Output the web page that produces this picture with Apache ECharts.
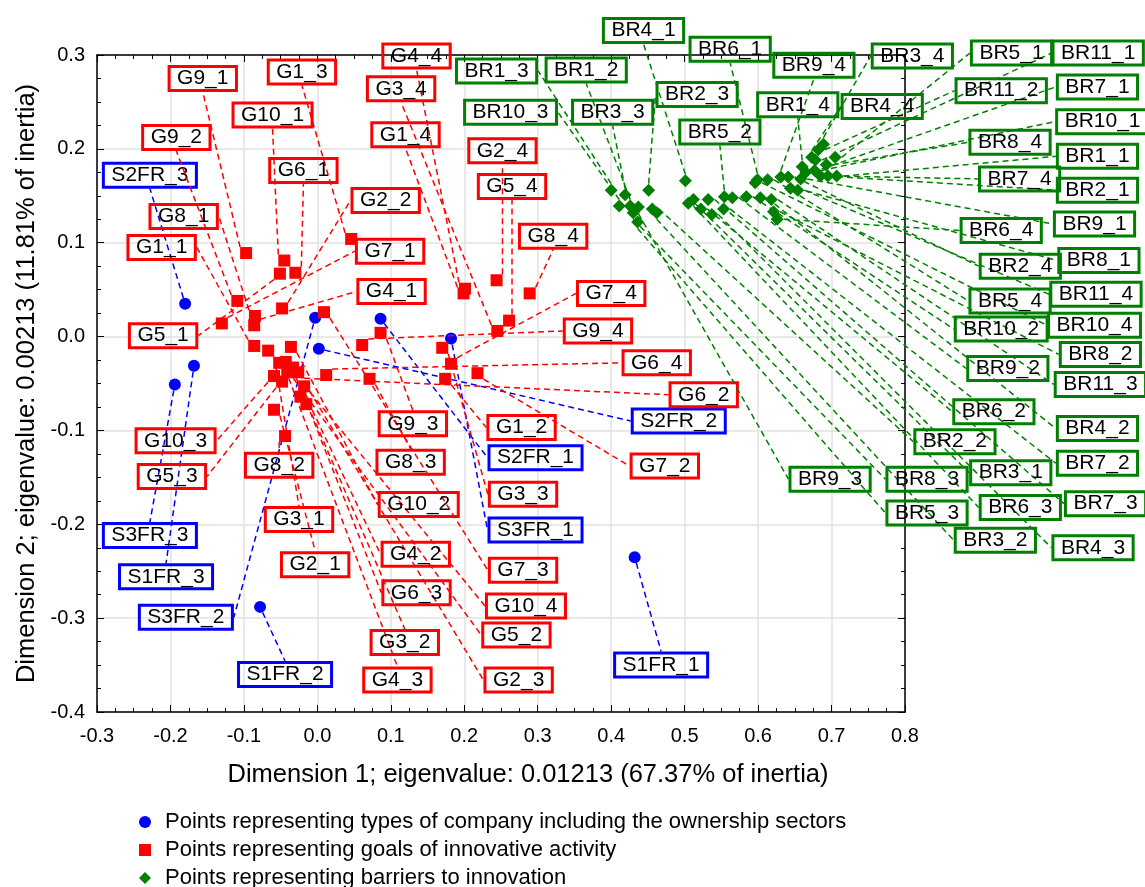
<!DOCTYPE html>
<html><head><meta charset="utf-8">
<script src="https://cdn.jsdelivr.net/npm/echarts@6/dist/echarts.min.js"></script>
<style>html,body{margin:0;padding:0;background:#fff}#c{width:1145px;height:887px}</style>
</head><body><div id="c"></div>
<script>
// ---- Data ----
const xTitle = 'Dimension 1; eigenvalue: 0.01213 (67.37% of inertia)';
const yTitle = 'Dimension 2; eigenvalue: 0.00213 (11.81% of inertia)';
const seriesNames = [
  'Points representing types of company including the ownership sectors',
  'Points representing goals of innovative activity',
  'Points representing barriers to innovation'
];

// Types of company (blue)
const blueNames = ['S1FR_1','S1FR_2','S1FR_3','S2FR_1','S2FR_2','S2FR_3','S3FR_1','S3FR_2','S3FR_3'];
const blueX = [0.432,-0.078,-0.168,0.086,0.002,-0.180,0.182,-0.003,-0.194];
const blueY = [-0.235,-0.288,-0.031,0.019,-0.013,0.035,-0.002,0.020,-0.051];
// label anchor positions (axis units)
const blueLabelX = [0.468,-0.044,-0.206,0.297,0.492,-0.228,0.297,-0.179,-0.228];
const blueLabelY = [-0.350,-0.360,-0.256,-0.129,-0.090,0.172,-0.206,-0.299,-0.212];

// Goals of innovative activity (red)
const redNames = ['G1_1','G1_2','G1_3','G1_4','G2_1','G2_2','G2_3','G2_4','G3_1','G3_2','G3_3','G3_4',
  'G4_1','G4_2','G4_3','G4_4','G5_1','G5_2','G5_3','G5_4','G6_1','G6_2','G6_3','G6_4',
  'G7_1','G7_2','G7_3','G7_4','G8_1','G8_2','G8_3','G8_4','G9_1','G9_2','G9_3','G9_4',
  'G10_1','G10_2','G10_3','G10_4'];
const redX = [-0.086,0.174,0.046,0.199,-0.059,-0.048,-0.033,0.244,-0.067,-0.043,0.170,0.245,
  -0.086,-0.015,-0.052,0.201,-0.051,-0.041,-0.048,0.261,-0.030,-0.026,-0.023,0.012,
  -0.130,0.218,0.009,0.182,-0.085,-0.044,0.071,0.289,-0.097,-0.109,0.086,0.061,
  -0.045,-0.036,-0.059,-0.018];
const redY = [-0.010,-0.045,0.104,0.046,-0.078,0.030,-0.033,0.060,-0.015,-0.027,-0.012,0.006,
  0.012,-0.072,-0.028,0.051,0.067,-0.038,-0.048,0.017,0.068,-0.038,-0.064,-0.041,
  0.014,-0.039,0.026,-0.029,0.022,-0.106,-0.045,0.046,0.089,0.038,0.004,-0.009,
  0.081,-0.011,-0.042,-0.053];
const redLabelX = [-0.212,0.278,-0.021,0.120,-0.003,0.093,0.274,0.252,-0.025,0.119,0.280,0.114,
  0.101,0.134,0.109,0.135,-0.210,0.271,-0.198,0.265,-0.019,0.526,0.135,0.462,
  0.099,0.473,0.280,0.400,-0.182,-0.052,0.127,0.321,-0.156,-0.192,0.130,0.382,
  -0.061,0.138,-0.193,0.284];
const redLabelY = [0.095,-0.097,0.282,0.215,-0.243,0.145,-0.366,0.198,-0.195,-0.326,-0.168,0.264,
  0.048,-0.232,-0.366,0.299,0.001,-0.318,-0.149,0.160,0.177,-0.062,-0.273,-0.028,
  0.091,-0.138,-0.249,0.046,0.128,-0.137,-0.134,0.107,0.275,0.212,-0.093,0.006,
  0.236,-0.179,-0.111,-0.287];

// Barriers to innovation (green)
const greenNames = ['BR1_1','BR1_2','BR1_3','BR1_4','BR2_1','BR2_2','BR2_3','BR2_4','BR3_1','BR3_2','BR3_3','BR3_4',
  'BR4_1','BR4_2','BR4_3','BR4_4','BR5_1','BR5_2','BR5_3','BR5_4','BR6_1','BR6_2','BR6_3','BR6_4',
  'BR7_1','BR7_2','BR7_3','BR7_4','BR8_1','BR8_2','BR8_3','BR8_4','BR9_1','BR9_2','BR9_3','BR9_4',
  'BR10_1','BR10_2','BR10_3','BR10_4','BR11_1','BR11_2','BR11_3','BR11_4'];
const greenX = [0.707,0.426,0.400,0.660,0.685,0.456,0.451,0.641,0.505,0.462,0.419,0.689,
  0.501,0.603,0.537,0.673,0.705,0.554,0.436,0.613,0.599,0.522,0.512,0.626,
  0.665,0.553,0.532,0.695,0.644,0.621,0.430,0.693,0.658,0.565,0.437,0.631,
  0.677,0.584,0.411,0.596,0.678,0.682,0.618,0.654];
const greenY = [0.171,0.139,0.156,0.181,0.171,0.136,0.156,0.170,0.142,0.132,0.151,0.205,
  0.166,0.148,0.130,0.191,0.191,0.149,0.122,0.167,0.167,0.136,0.146,0.125,
  0.175,0.136,0.146,0.171,0.158,0.133,0.132,0.183,0.168,0.148,0.138,0.170,
  0.177,0.149,0.139,0.164,0.188,0.199,0.146,0.156];
const greenLabelX = [1.062,0.366,0.244,0.654,1.062,0.868,0.517,0.957,0.944,0.923,0.402,0.810,
  0.444,1.062,1.056,0.769,0.945,0.548,0.830,0.943,0.562,0.921,0.957,0.931,
  1.062,1.062,1.073,0.956,1.064,1.066,0.830,0.943,1.058,0.940,0.698,0.676,
  1.069,0.931,0.263,1.058,1.063,0.931,1.066,1.060];
const greenLabelY = [0.192,0.284,0.283,0.247,0.156,-0.112,0.258,0.075,-0.145,-0.217,0.239,0.299,
  0.326,-0.098,-0.225,0.245,0.302,0.218,-0.188,0.038,0.306,-0.080,-0.182,0.113,
  0.266,-0.135,-0.178,0.168,0.081,-0.019,-0.152,0.207,0.120,-0.034,-0.152,0.289,
  0.229,0.008,0.239,0.012,0.302,0.262,-0.051,0.045];

// ---- Chart ----
const FONT = 'Liberation Sans, Arial, sans-serif';
const chart = echarts.init(document.getElementById('c'));

function makeSeries(name, names, xs, ys, lx, ly, color, symbol, size, z) {
  return {
    type: 'scatter', name: name, symbol: symbol, symbolSize: size, z: z,
    itemStyle: { color: color, opacity: 1 },
    data: names.map((n, i) => ({ name: n, value: [xs[i], ys[i]] })),
    label: {
      show: true, formatter: '{b}', color: '#000', fontSize: 21, fontFamily: FONT,
      borderColor: color, borderWidth: 1.5, padding: [2, 8, 1, 8],
      backgroundColor: 'rgba(255,255,255,0)'
    },
    labelLine: { show: true, lineStyle: { color: color, width: 1.5, type: [6, 4], opacity: 1 } },
    labelLayout: function (p) {
      const pt = chart.convertToPixel({ gridIndex: 0 }, [lx[p.dataIndex], ly[p.dataIndex]]);
      return { x: pt[0], y: pt[1], align: 'center', verticalAlign: 'middle', hideOverlap: false };
    },
    emphasis: { disabled: true },
    silent: true
  };
}

const axisCommon = {
  type: 'value',
  axisLine: { show: true, onZero: false, lineStyle: { color: '#000', width: 1.5 } },
  axisTick: { show: true, inside: true, length: 7, lineStyle: { color: '#000', width: 1 } },
  minorTick: { show: true, splitNumber: 4, length: 4, lineStyle: { color: '#000', width: 1 } },
};

const option = {
  animation: false,
  backgroundColor: '#fff',
  textStyle: { fontFamily: FONT },
  grid: { left: 97, right: 240, top: 55, bottom: 175, containLabel: false },
  xAxis: [
    Object.assign({}, axisCommon, {
      min: -0.3, max: 0.8, interval: 0.1, position: 'bottom',
      splitLine: { show: true, lineStyle: { color: '#e2e2e2', width: 1.5 } },
      axisLabel: { formatter: v => v.toFixed(1), fontSize: 20, color: '#000', margin: 14, fontFamily: FONT },
      name: xTitle, nameLocation: 'middle', nameGap: 50,
      nameTextStyle: { fontSize: 25.5, color: '#000', fontFamily: FONT, padding: [0, 0, 0, 54] }
    }),
    Object.assign({}, axisCommon, {
      min: -0.3, max: 0.8, interval: 0.1, position: 'top',
      splitLine: { show: false }, axisLabel: { show: false }
    })
  ],
  yAxis: [
    Object.assign({}, axisCommon, {
      min: -0.4, max: 0.3, interval: 0.1, position: 'left',
      splitLine: { show: true, lineStyle: { color: '#e2e2e2', width: 1.5 } },
      axisLabel: { formatter: v => v.toFixed(1), fontSize: 20, color: '#000', margin: 12, fontFamily: FONT },
      name: yTitle, nameLocation: 'middle', nameGap: 52,
      nameTextStyle: { fontSize: 25.5, color: '#000', fontFamily: FONT }
    }),
    Object.assign({}, axisCommon, {
      min: -0.4, max: 0.3, interval: 0.1, position: 'right',
      splitLine: { show: false }, axisLabel: { show: false }
    })
  ],
  legend: {
    orient: 'vertical', left: 134, top: 805, height: 120, itemWidth: 12, itemHeight: 12, itemGap: 4,
    selectedMode: false,
    textStyle: { fontSize: 22, color: '#000', lineHeight: 24, padding: [0, 0, 0, 9], fontFamily: FONT },
    data: seriesNames
  },
  series: [
    makeSeries(seriesNames[0], blueNames, blueX, blueY, blueLabelX, blueLabelY, '#0000ff', 'circle', 12, 3),
    makeSeries(seriesNames[1], redNames, redX, redY, redLabelX, redLabelY, '#ff0000', 'rect', 12, 4),
    makeSeries(seriesNames[2], greenNames, greenX, greenY, greenLabelX, greenLabelY, '#008000', 'diamond', 13, 5)
  ]
};
chart.setOption(option);
</script>
</body></html>
